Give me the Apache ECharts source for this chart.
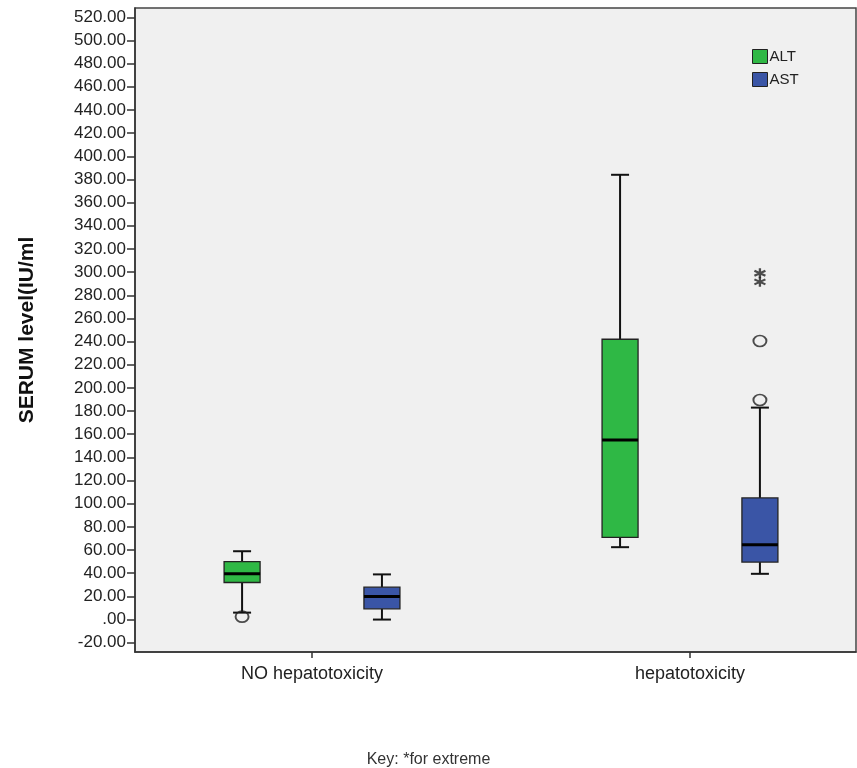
<!DOCTYPE html>
<html>
<head>
<meta charset="utf-8">
<script src="https://cdn.jsdelivr.net/npm/echarts@6/dist/echarts.min.js"></script>
<style>html,body{margin:0;padding:0;background:#fff;}#c{width:857px;height:768px;}</style>
</head>
<body>
<div id="c"></div>
<script>
// ---- data ----
const categories = ['NO hepatotoxicity', 'hepatotoxicity'];
const seriesNames = ['ALT', 'AST'];
// [min, Q1, median, Q3, max] per category
const altBox = [[6, 32, 39.5, 50, 59], [62.5, 71, 155, 242, 384]];
const astBox = [[0, 9.3, 20, 28, 39], [39.5, 49.6, 64.5, 105, 183]];
// outliers: [categoryIndex, value]
const altOutliers = [[0, 2.5]];
const astOutliers = [[1, 189.6], [1, 240.5]];
const altExtremes = [];
const astExtremes = [[1, 291.6], [1, 299]];
const yTicks = [-20, 0, 20, 40, 60, 80, 100, 120, 140, 160, 180, 200, 220, 240, 260,
  280, 300, 320, 340, 360, 380, 400, 420, 440, 460, 480, 500, 520];

// ---- style ----
const FONT = 'Liberation Sans, Arial, sans-serif';
const colors = { ALT: '#2fb845', AST: '#3a55a6' };
const offsets = { ALT: -0.185, AST: 0.185 };
const BOX_W = 36, CAP_HALF = 9;

function boxRender(offset, color) {
  return function (params, api) {
    const cat = api.value(0);
    const cx = api.coord([cat + offset, 0])[0];
    const y = [1, 2, 3, 4, 5].map(i => api.coord([cat, api.value(i)])[1]);
    const [yMin, yQ1, yMed, yQ3, yMax] = y;
    const ln = { stroke: '#111', lineWidth: 2 };
    return {
      type: 'group',
      children: [
        { type: 'line', shape: { x1: cx, y1: yMax, x2: cx, y2: yQ3 }, style: ln },
        { type: 'line', shape: { x1: cx - CAP_HALF, y1: yMax, x2: cx + CAP_HALF, y2: yMax }, style: ln },
        { type: 'line', shape: { x1: cx, y1: yQ1, x2: cx, y2: yMin }, style: ln },
        { type: 'line', shape: { x1: cx - CAP_HALF, y1: yMin, x2: cx + CAP_HALF, y2: yMin }, style: ln },
        { type: 'rect', shape: { x: cx - BOX_W / 2, y: yQ3, width: BOX_W, height: yQ1 - yQ3 },
          style: { fill: color, stroke: '#222', lineWidth: 1.3 } },
        { type: 'line', shape: { x1: cx - BOX_W / 2, y1: yMed, x2: cx + BOX_W / 2, y2: yMed },
          style: { stroke: '#000', lineWidth: 3 } }
      ]
    };
  };
}

function boxSeries(name, boxes) {
  return {
    type: 'custom',
    name: name,
    renderItem: boxRender(offsets[name], colors[name]),
    encode: { x: 0, y: [1, 2, 3, 4, 5] },
    itemStyle: { color: colors[name] },
    data: boxes.map((b, i) => [i].concat(b)),
    z: 3
  };
}

function pointSeries(name, pts, kind) {
  const circle = kind === 'o';
  return {
    type: 'scatter',
    name: name + (circle ? ' outliers' : ' extremes'),
    data: pts.map(p => [p[0] + offsets[name], p[1]]),
    symbol: circle ? 'circle' : 'path://M5,0L5,10M0.67,2.5L9.33,7.5M0.67,7.5L9.33,2.5',
    symbolSize: circle ? [13, 11] : [11, 10],
    itemStyle: circle
      ? { color: 'rgba(0,0,0,0)', borderColor: '#222', borderWidth: 1.8 }
      : { color: 'rgba(0,0,0,0)', borderColor: '#222', borderWidth: 2.2 },
    z: 4,
    silent: true
  };
}

const chart = echarts.init(document.getElementById('c'), null, { renderer: 'canvas' });
chart.setOption({
  backgroundColor: '#ffffff',
  animation: false,
  title: {
    text: 'Key: *for extreme',
    left: 'center',
    top: 747,
    textStyle: { fontFamily: FONT, fontSize: 16, fontWeight: 'normal', color: '#333' }
  },
  legend: {
    data: seriesNames,
    orient: 'vertical',
    left: 752,
    top: 49,
    icon: 'rect',
    itemWidth: 15,
    itemHeight: 14,
    itemGap: 8,
    padding: 0,
    itemStyle: { borderColor: '#222', borderWidth: 1 },
    textStyle: { fontFamily: FONT, fontSize: 15, color: '#222', padding: [0, 0, 0, -3] }
  },
  grid: {
    left: 135, right: 1, top: 8, bottom: 116,
    show: true, backgroundColor: '#f0f0f0', borderColor: '#444', borderWidth: 1.5
  },
  xAxis: {
    type: 'value',
    min: -0.4683, max: 1.4392,
    splitLine: { show: false },
    axisLine: { show: true, onZero: false, lineStyle: { color: '#333', width: 1.5 } },
    axisTick: { show: true, length: 6, customValues: [0, 1], lineStyle: { color: '#333', width: 1.5 } },
    axisLabel: {
      customValues: [0, 1],
      formatter: v => categories[Math.round(v)],
      margin: 13,
      fontFamily: FONT, fontSize: 18, color: '#222'
    }
  },
  yAxis: {
    type: 'value',
    min: -28, max: 528,
    name: 'SERUM level(IU/ml',
    nameLocation: 'middle',
    nameGap: 97,
    nameTextStyle: { fontFamily: FONT, fontSize: 21, fontWeight: 'bold', color: '#111' },
    splitLine: { show: false },
    axisLine: { show: true, onZero: false, lineStyle: { color: '#333', width: 1.5 } },
    axisTick: { show: true, length: 8, customValues: yTicks, lineStyle: { color: '#333', width: 1.5 } },
    axisLabel: {
      customValues: yTicks,
      formatter: v => (v === 0 ? '.00' : v.toFixed(2)),
      margin: 9,
      fontFamily: FONT, fontSize: 17, color: '#222'
    }
  },
  series: [
    boxSeries('ALT', altBox),
    boxSeries('AST', astBox),
    pointSeries('ALT', altOutliers, 'o'),
    pointSeries('AST', astOutliers, 'o'),
    pointSeries('ALT', altExtremes, '*'),
    pointSeries('AST', astExtremes, '*')
  ]
});
</script>
</body>
</html>
